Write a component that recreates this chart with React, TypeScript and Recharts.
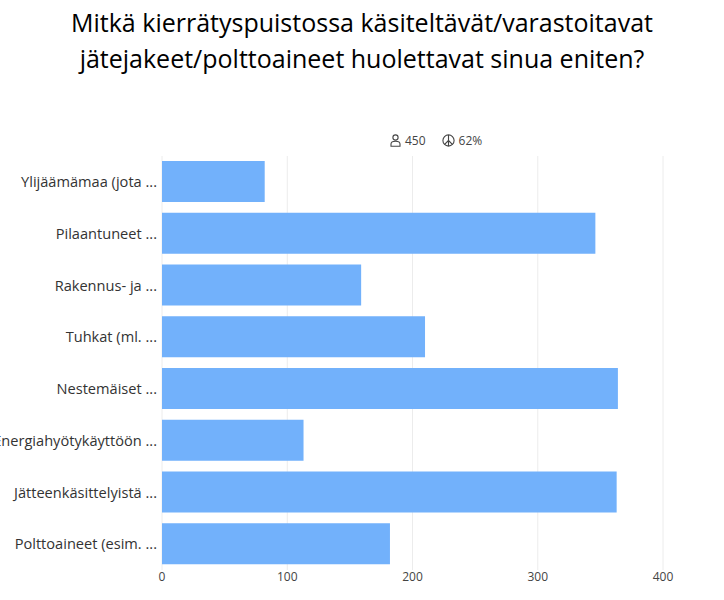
import { BarChart, Bar, XAxis, YAxis, CartesianGrid } from 'recharts';

const categories = [
  'Ylijäämämaa (jota ...',
  'Pilaantuneet ...',
  'Rakennus- ja ...',
  'Tuhkat (ml. ...',
  'Nestemäiset ...',
  'Energiahyötykäyttöön ...',
  'Jätteenkäsittelyistä ...',
  'Polttoaineet (esim. ...',
];
const counts = [82, 346, 159, 210, 364, 113, 363, 182];
const xTicks = [0, 100, 200, 300, 400];

const data = categories.map((name, i) => ({ name, value: counts[i] }));

const FONT = '"Open Sans", "Noto Sans", sans-serif';

function PersonIcon() {
  return (
    <svg width="11" height="13" viewBox="0 0 11 13" style={{ verticalAlign: 'middle' }}>
      <circle cx="5.5" cy="3.5" r="2.6" fill="none" stroke="#444" strokeWidth="1.1" />
      <path d="M1 12.2 V10 Q1 7.2 5.5 7.2 Q10 7.2 10 10 V12.2 Z" fill="none" stroke="#444" strokeWidth="1.1" />
    </svg>
  );
}

function PeaceIcon() {
  return (
    <svg width="13" height="13" viewBox="0 0 13 13" style={{ verticalAlign: 'middle' }}>
      <circle cx="6.5" cy="6.5" r="5.6" fill="none" stroke="#444" strokeWidth="1.1" />
      <path d="M6.5 1 V12 M6.5 6.5 L2.6 10.4 M6.5 6.5 L10.4 10.4" fill="none" stroke="#444" strokeWidth="1.1" />
    </svg>
  );
}

export default function App() {
  return (
    <div style={{ position: 'absolute', left: 0, top: 0, width: 724, height: 600, background: '#fff', fontFamily: FONT }}>
      <div
        style={{
          position: 'absolute',
          top: 4,
          left: 0,
          width: 724,
          textAlign: 'center',
          fontSize: 25,
          lineHeight: '36px',
          color: '#000',
        }}
      >
        Mitkä kierrätyspuistossa käsiteltävät/varastoitavat
        <br />
        jätejakeet/polttoaineet huolettavat sinua eniten?
      </div>
      <div
        style={{
          position: 'absolute',
          top: 132,
          left: 390,
          fontSize: 12,
          color: '#444',
          display: 'flex',
          alignItems: 'center',
          gap: 4,
        }}
      >
        <PersonIcon />
        <span>450</span>
        <span style={{ width: 8 }} />
        <PeaceIcon />
        <span>62%</span>
      </div>
      <BarChart
        width={724}
        height={600}
        data={data}
        layout="vertical"
        margin={{ top: 156, right: 61, left: 0, bottom: 0 }}
        barSize={41}
      >
        <CartesianGrid horizontal={false} stroke="#ececec" />
        <XAxis
          type="number"
          domain={[0, 400]}
          ticks={xTicks}
          axisLine={false}
          tickLine={false}
          tickSize={0}
          tickMargin={2}
          height={30}
          tick={{ fontSize: 12, fill: '#444', fontFamily: FONT }}
        />
        <YAxis
          type="category"
          dataKey="name"
          width={162}
          axisLine={false}
          tickLine={false}
          tickSize={0}
          tickMargin={5}
          tick={{ fontSize: 14.6, fill: '#333', fontFamily: FONT }}
        />
        <Bar dataKey="value" fill="#72b1fb" isAnimationActive={false} />
      </BarChart>
    </div>
  );
}
